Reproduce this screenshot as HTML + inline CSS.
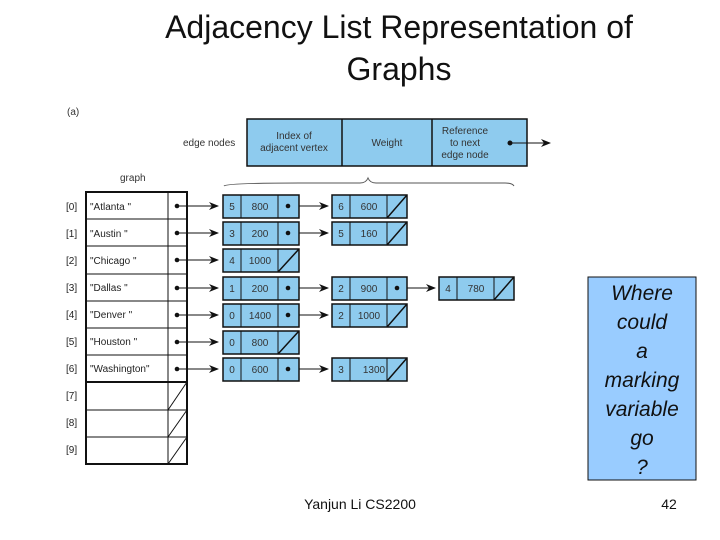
<!DOCTYPE html>
<html><head><meta charset="utf-8"><style>
html,body{margin:0;padding:0;background:#fff;}
svg{display:block;font-family:"Liberation Sans",sans-serif;}
.n rect{fill:#8ecbee;stroke:#111;stroke-width:1.5}
.n text{font-size:10px;fill:#333}
.g text{font-size:10px;fill:#222}
</style></head><body>
<svg width="720" height="540" viewBox="0 0 720 540">
<defs><marker id="a" markerWidth="10" markerHeight="8" refX="9" refY="4" orient="auto" markerUnits="userSpaceOnUse"><path d="M0,0 L10,4 L0,8 L3,4z" fill="#111"/></marker></defs>
<text x="399" y="38" font-size="32" text-anchor="middle" fill="#111">Adjacency List Representation of</text>
<text x="399" y="80" font-size="32" text-anchor="middle" fill="#111">Graphs</text>
<text x="67" y="115" font-size="10" fill="#333">(a)</text>
<text x="183" y="146" font-size="10" fill="#333">edge nodes</text>
<g class="n">
<rect x="247" y="119" width="280" height="47"/>
<line x1="342" y1="119" x2="342" y2="166" stroke="#111" stroke-width="1.5"/>
<line x1="432" y1="119" x2="432" y2="166" stroke="#111" stroke-width="1.5"/>
<text x="294" y="139" text-anchor="middle">Index of</text>
<text x="294" y="151" text-anchor="middle">adjacent vertex</text>
<text x="387" y="146" text-anchor="middle">Weight</text>
<text x="465" y="134" text-anchor="middle">Reference</text>
<text x="465" y="146" text-anchor="middle">to next</text>
<text x="465" y="158" text-anchor="middle">edge node</text>
</g>
<circle cx="510" cy="143" r="2.5" fill="#111"/>
<line x1="510" y1="143" x2="550" y2="143" stroke="#111" marker-end="url(#a)"/>
<text x="120" y="181" font-size="10" fill="#333">graph</text>
<path d="M224,186 Q226,183 300,183 L360,183 Q366,183 368,178 Q370,183 376,183 L505,183 Q512,183 514,186" fill="none" stroke="#555" stroke-width="1"/>
<g class="g">
<rect x="86" y="192" width="101" height="272" fill="none" stroke="#111" stroke-width="2"/>
<line x1="168" y1="192" x2="168" y2="464" stroke="#111"/>
<g stroke="#111"><line x1="86" y1="219" x2="187" y2="219"/><line x1="86" y1="246" x2="187" y2="246"/><line x1="86" y1="274" x2="187" y2="274"/><line x1="86" y1="301" x2="187" y2="301"/><line x1="86" y1="328" x2="187" y2="328"/><line x1="86" y1="355" x2="187" y2="355"/><line x1="86" y1="382" x2="187" y2="382" stroke-width="2"/><line x1="86" y1="410" x2="187" y2="410"/><line x1="86" y1="437" x2="187" y2="437"/>
<line x1="168" y1="410" x2="187" y2="382"/><line x1="168" y1="437" x2="187" y2="410"/><line x1="168" y1="464" x2="187" y2="437"/></g>
<text x="66" y="210">[0]</text><text x="90" y="210">"Atlanta        "</text>
<text x="66" y="237">[1]</text><text x="90" y="237">"Austin          "</text>
<text x="66" y="264">[2]</text><text x="90" y="264">"Chicago        "</text>
<text x="66" y="291">[3]</text><text x="90" y="291">"Dallas          "</text>
<text x="66" y="318">[4]</text><text x="90" y="318">"Denver         "</text>
<text x="66" y="345">[5]</text><text x="90" y="345">"Houston        "</text>
<text x="66" y="372">[6]</text><text x="90" y="372">"Washington"</text>
<text x="66" y="399">[7]</text><text x="66" y="426">[8]</text><text x="66" y="453">[9]</text>
<g fill="#111"><circle cx="177" cy="206" r="2.3"/><circle cx="177" cy="233" r="2.3"/><circle cx="177" cy="260" r="2.3"/><circle cx="177" cy="288" r="2.3"/><circle cx="177" cy="315" r="2.3"/><circle cx="177" cy="342" r="2.3"/><circle cx="177" cy="369" r="2.3"/></g>
<g stroke="#111" marker-end="url(#a)"><line x1="177" y1="206" x2="218" y2="206"/><line x1="177" y1="233" x2="218" y2="233"/><line x1="177" y1="260" x2="218" y2="260"/><line x1="177" y1="288" x2="218" y2="288"/><line x1="177" y1="315" x2="218" y2="315"/><line x1="177" y1="342" x2="218" y2="342"/><line x1="177" y1="369" x2="218" y2="369"/>
<line x1="288" y1="206" x2="328" y2="206"/><line x1="288" y1="233" x2="328" y2="233"/><line x1="288" y1="288" x2="328" y2="288"/><line x1="288" y1="315" x2="328" y2="315"/><line x1="288" y1="369" x2="328" y2="369"/><line x1="397" y1="288" x2="435" y2="288"/></g>
</g>
<!-- nodes -->
<g class="n">
<!-- col1 -->
<g transform="translate(223,195)"><rect width="76" height="23"/><line x1="18" y1="0" x2="18" y2="23" stroke="#111"/><line x1="55" y1="0" x2="55" y2="23" stroke="#111"/><text x="9" y="15" text-anchor="middle">5</text><text x="37" y="15" text-anchor="middle">800</text><circle cx="65" cy="11" r="2.3" fill="#111"/></g>
<g transform="translate(223,222)"><rect width="76" height="23"/><line x1="18" y1="0" x2="18" y2="23" stroke="#111"/><line x1="55" y1="0" x2="55" y2="23" stroke="#111"/><text x="9" y="15" text-anchor="middle">3</text><text x="37" y="15" text-anchor="middle">200</text><circle cx="65" cy="11" r="2.3" fill="#111"/></g>
<g transform="translate(223,249)"><rect width="76" height="23"/><line x1="18" y1="0" x2="18" y2="23" stroke="#111"/><line x1="55" y1="0" x2="55" y2="23" stroke="#111"/><text x="9" y="15" text-anchor="middle">4</text><text x="37" y="15" text-anchor="middle">1000</text><line x1="55" y1="23" x2="76" y2="0" stroke="#111" stroke-width="1.5"/></g>
<g transform="translate(223,277)"><rect width="76" height="23"/><line x1="18" y1="0" x2="18" y2="23" stroke="#111"/><line x1="55" y1="0" x2="55" y2="23" stroke="#111"/><text x="9" y="15" text-anchor="middle">1</text><text x="37" y="15" text-anchor="middle">200</text><circle cx="65" cy="11" r="2.3" fill="#111"/></g>
<g transform="translate(223,304)"><rect width="76" height="23"/><line x1="18" y1="0" x2="18" y2="23" stroke="#111"/><line x1="55" y1="0" x2="55" y2="23" stroke="#111"/><text x="9" y="15" text-anchor="middle">0</text><text x="37" y="15" text-anchor="middle">1400</text><circle cx="65" cy="11" r="2.3" fill="#111"/></g>
<g transform="translate(223,331)"><rect width="76" height="23"/><line x1="18" y1="0" x2="18" y2="23" stroke="#111"/><line x1="55" y1="0" x2="55" y2="23" stroke="#111"/><text x="9" y="15" text-anchor="middle">0</text><text x="37" y="15" text-anchor="middle">800</text><line x1="55" y1="23" x2="76" y2="0" stroke="#111" stroke-width="1.5"/></g>
<g transform="translate(223,358)"><rect width="76" height="23"/><line x1="18" y1="0" x2="18" y2="23" stroke="#111"/><line x1="55" y1="0" x2="55" y2="23" stroke="#111"/><text x="9" y="15" text-anchor="middle">0</text><text x="37" y="15" text-anchor="middle">600</text><circle cx="65" cy="11" r="2.3" fill="#111"/></g>
<!-- col2 -->
<g transform="translate(332,195)"><rect width="75" height="23"/><line x1="18" y1="0" x2="18" y2="23" stroke="#111"/><line x1="55" y1="0" x2="55" y2="23" stroke="#111"/><text x="9" y="15" text-anchor="middle">6</text><text x="37" y="15" text-anchor="middle">600</text><line x1="55" y1="23" x2="75" y2="0" stroke="#111" stroke-width="1.5"/></g>
<g transform="translate(332,222)"><rect width="75" height="23"/><line x1="18" y1="0" x2="18" y2="23" stroke="#111"/><line x1="55" y1="0" x2="55" y2="23" stroke="#111"/><text x="9" y="15" text-anchor="middle">5</text><text x="37" y="15" text-anchor="middle">160</text><line x1="55" y1="23" x2="75" y2="0" stroke="#111" stroke-width="1.5"/></g>
<g transform="translate(332,277)"><rect width="75" height="23"/><line x1="18" y1="0" x2="18" y2="23" stroke="#111"/><line x1="55" y1="0" x2="55" y2="23" stroke="#111"/><text x="9" y="15" text-anchor="middle">2</text><text x="37" y="15" text-anchor="middle">900</text><circle cx="65" cy="11" r="2.3" fill="#111"/></g>
<g transform="translate(332,304)"><rect width="75" height="23"/><line x1="18" y1="0" x2="18" y2="23" stroke="#111"/><line x1="55" y1="0" x2="55" y2="23" stroke="#111"/><text x="9" y="15" text-anchor="middle">2</text><text x="37" y="15" text-anchor="middle">1000</text><line x1="55" y1="23" x2="75" y2="0" stroke="#111" stroke-width="1.5"/></g>
<g transform="translate(332,358)"><rect width="75" height="23"/><line x1="18" y1="0" x2="18" y2="23" stroke="#111"/><line x1="55" y1="0" x2="55" y2="23" stroke="#111"/><text x="9" y="15" text-anchor="middle">3</text><text x="42" y="15" text-anchor="middle">1300</text><line x1="55" y1="23" x2="75" y2="0" stroke="#111" stroke-width="1.5"/></g>
<!-- col3 -->
<g transform="translate(439,277)"><rect width="75" height="23"/><line x1="18" y1="0" x2="18" y2="23" stroke="#111"/><line x1="55" y1="0" x2="55" y2="23" stroke="#111"/><text x="9" y="15" text-anchor="middle">4</text><text x="37" y="15" text-anchor="middle">780</text><line x1="55" y1="23" x2="75" y2="0" stroke="#111" stroke-width="1.5"/></g>
</g>
<rect x="588" y="277" width="108" height="203" fill="#99ccff" stroke="#111" stroke-width="1"/>
<g font-size="21" font-style="italic" text-anchor="middle" fill="#111">
<text x="642" y="300">Where</text><text x="642" y="329">could</text><text x="642" y="358">a</text><text x="642" y="387">marking</text><text x="642" y="416">variable</text><text x="642" y="445">go</text><text x="642" y="474">?</text>
</g>
<text x="360" y="509" font-size="14" text-anchor="middle" fill="#111">Yanjun Li CS2200</text>
<text x="669" y="509" font-size="14" text-anchor="middle" fill="#111">42</text>
</svg>
</body></html>
